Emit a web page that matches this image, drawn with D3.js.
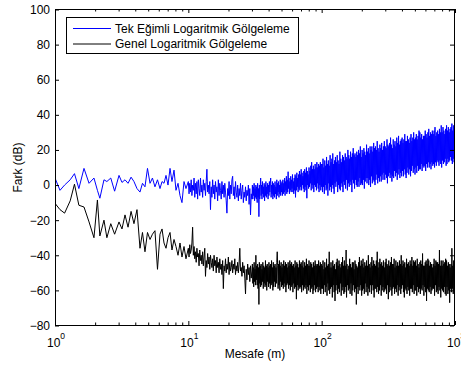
<!DOCTYPE html>
<html lang="tr">
<head>
<meta charset="UTF-8">
<title>Fark - Mesafe</title>
<script src="https://cdn.jsdelivr.net/npm/d3@7"></script>
<style>
  body { margin: 0; background: #fff; }
  svg { display: block; font-family: "Liberation Sans", Arial, sans-serif; }
</style>
</head>
<body>
<div id="chart"></div>
<script>
// distances (m) for the sparse part at the start
var distEarly = [1, 1.09, 1.18, 1.3, 1.4, 1.51, 1.65, 1.8, 1.96, 2.08, 2.17, 2.33, 2.45, 2.62, 2.8,
  3.02, 3.18, 3.35, 3.53, 3.72, 3.91, 4.12, 4.34, 4.53, 4.73, 4.94, 5.16, 5.38, 5.62, 5.87,
  6.13, 6.35, 6.57, 6.8, 7.04, 7.29, 7.54, 7.81, 8.08, 8.37, 8.66, 8.96, 9.28, 9.6];

// Tek Egimli (blue), dB
var blueEarly = [4, -3, 0, 3, 6.5, -2, 9.5, 1, 4, -3, -7.5, 3, 2, 4, -3.5, 5.5, 1.5, 3, 1, 4.5,
  2, -2, -4, 1, -1, 9.5, 1, 4, -1, 3, -2, 2, 1, 5.5, 0, 9.5, 2, 8.5, -3, 1, -6, -10, 2, -2];
// 10..30 m
var blueMid1 = "2 -5 1 -4 3 -6 0 -3 4 -7 1 -5 2 -8 3 -2 -6 4 -4 0 " +
  "-7 3 -3 1 -6 2 9 -4 0 -5 2 -14 -1 -7 3 -5 0 -8 2 -4 " +
  "-1 -9 3 -6 1 -3 -8 2 -5 0 -7 1 -4 -9 -16 -2 -6 2 -8 0 " +
  "-5 3 5 -6 -1 -8 2 -4 -7 0 -9 -2 -6 1 -8 -3 0 -10 -4 -7 " +
  "-1 -9 -3 -6 0 -11 -2 -17 -5 -8";
// 30..100 m
var blueMid2 = "0 -8 -1 -6 1 -9 -2 -7 0 -8 -1 -10 1 -7 -2 -18 0 -8 -1 4 " +
  "-6 0 -8 2 -5 -1 -7 1 -9 0 -6 2 -7 -1 -5 1 -8 0 -6 2 " +
  "-4 1 4 -7 0 -5 2 -8 1 -6 0 -7 2 -5 -1 -8 3 -6 1 -4 " +
  "2 -7 0 -5 3 -6 1 -4 2 -6 3 -5 1 -4 4 -6 2 -3 5 -5 " +
  "3 -4 7.6 -2 4 -5 2 -3 5 -4 3 -2 6 -4 2 -5 4 -3 6 -7 " +
  "5 -3 7 -1 4 -4 6 -2 8 -3 6 -1 9 -3 7 0 5 -2 8 -4 " +
  "9 -1 7 -3 10 -7.5 8 0 6 -2 10 -1 8 1 11 -3 13 0 9 -2 " +
  "11 -4 9 0 12 -1 10 -3 13 1 10 -2 12 -4 11 0 13 -3 12 -1";
// 100..1000 m
var blueFar = "12 -4 15 -1 10 -5 14 0 11 -3 16 -2 12 -6 14 1 11 -3 17 -1 " +
  "13 -4 15 0 18 -2 12 -5 14 1 16 -1 13 2 17 -4 14 0 12 -2 " +
  "19 -3 15 1 13 -1 17 -4 16 2 14 0 18 -2 16 3 15 -3 20 1 " +
  "17 -1 15 2 19 0 16 -4 18 3 21 1 17 -2 18 3 16 0 19 -1 " +
  "17 2 20 -1 18 4 22 0 16 1 20 0 18 3 21 -2 19 2 17 4 " +
  "23 1 19 4 21 0 18 3 22 -1 20 5 22 1 19 3 24 2 21 0 " +
  "22 3 20 6 25 1 21 4 19 2 23 5 21 2 24 6 20 3 22 7 " +
  "25 3 22 6 21 4 26 1 23 5 22 7 24 4 27 6 23 2 21 5 " +
  "26 4 23 8 25 5 22 7 27 3 24 6 28 9 23 4 25 7 26 5 " +
  "27 8 24 5 26 9 29 6 25 4 25 7 28 10 26 6 24 9 27 5 " +
  "29 8 25 11 27 7 30 9 26 6 27 10 29 7 26 11 28 8 31 9 " +
  "30 9 27 12 29 8 26 11 28 10 28 11 31 8 29 12 27 10 30 13 " +
  "32 10 28 12 30 9 29 13 31 11 29 12 31 10 33 13 28 11 30 14 " +
  "31 13 29 11 32 14 30 12 34 10 30 14 33 12 31 13 29 15 32 11 " +
  "34 12 31 15 33 13 30 14 32 16 33 14 35 12 31 15 34 13 32 15";

// Genel (black), dB
var blackEarly = [-10.4, -14, -16, -9, 0.5, -11.5, -12.5, -21, -30, -8.5, -29, -20, -30, -22, -28,
  -21, -25, -17, -24, -15, -22, -14, -36, -27, -38, -27, -31, -28, -26, -48, -28, -25, -33, -36,
  -30, -27, -37, -31, -35, -40, -33, -41, -35, -42];
var blackMid1 = "-36 -41 -34 -39 -37 -33 -24 -40 -35 -42 -38 -44 -36 -41 -39 -46 -37 -43 -40 -45 " +
  "-38 -46 -41 -36 -52 -43 -47 -39 -45 -41 -48 -40 -44 -47 -42 -49 -40 -46 -43 -50 " +
  "-41 -47 -44 -50 -42 -48 -45 -51 -43 -59 -46 -49 -42 -50 -45 -48 -41 -51 -44 -49 " +
  "-47 -43 -50 -45 -48 -42 -51 -46 -49 -44 -50 -45 -36 -49 -47 -52 -44 -50 -46 -53 " +
  "-62 -48 -54 -45 -51 -47 -55 -46 -53 -49";
var blackMid2 = "-45 -56 -47 -58 -44 -55 -48 -57 -40 -54 -46 -57 -45 -59 -47 -68 -44 -56 -46 -58 " +
  "-45 -57 -48 -55 -44 -59 -46 -56 -47 -58 -43 -57 -46 -60 -45 -55 -47 -58 -44 -56 " +
  "-46 -59 -45 -57 -43 -56 -47 -60 -44 -58 -46 -55 -45 -58 -47 -56 -44 -38 -46 -59 " +
  "-45 -57 -43 -60 -46 -55 -44 -58 -47 -57 -45 -59 -43 -56 -46 -58 -44 -61 -45 -57 " +
  "-47 -56 -44 -59 -46 -57 -43 -60 -45 -58 -44 -57 -46 -61 -45 -56 -47 -59 -43 -58 " +
  "-46 -65 -44 -57 -45 -60 -47 -58 -43 -59 -45 -58 -44 -61 -46 -57 -43 -60 -47 -58 " +
  "-44 -59 -46 -57 -42 -62 -45 -58 -46 -60 -43 -57 -46 -61 -44 -59 -45 -58 -47 -62 " +
  "-44 -60 -46 -57 -43 -61 -45 -59 -46 -58 -45 -61 -43 -58 -46 -60 -44 -62 -45 -59";
var blackFar = "-46 -59 -43 -62 -48 -57 -44 -61 -47 -58 -42 -63 -46 -56 -45 -60 -38 -62 -47 -59 " +
  "-44 -58 -47 -64 -43 -57 -46 -61 -45 -66 -48 -60 -44 -57 -42 -62 -46 -59 -43 -61 " +
  "-45 -56 -47 -63 -44 -60 -41 -58 -46 -62 -43 -61 -46 -58 -37 -64 -45 -57 -48 -60 " +
  "-46 -59 -42 -62 -45 -56 -47 -63 -44 -60 -44 -57 -48 -61 -43 -59 -45 -68 -46 -58 " +
  "-47 -62 -44 -58 -41 -60 -46 -57 -43 -63 -45 -60 -42 -59 -47 -62 -44 -56 -46 -61 " +
  "-43 -58 -46 -63 -40 -59 -45 -61 -47 -57 -44 -62 -41 -57 -46 -60 -43 -64 -45 -59 " +
  "-46 -59 -43 -61 -38 -58 -47 -62 -44 -60 -42 -57 -45 -63 -44 -60 -46 -58 -43 -61 " +
  "-47 -60 -44 -59 -42 -62 -45 -57 -46 -65 -43 -61 -46 -58 -44 -60 -41 -63 -45 -59 " +
  "-45 -58 -42 -62 -47 -59 -43 -61 -46 -57 -44 -63 -46 -60 -43 -58 -45 -62 -40 -59 " +
  "-46 -57 -43 -61 -45 -64 -44 -59 -47 -60 -42 -62 -45 -58 -44 -60 -46 -63 -43 -59 " +
  "-45 -59 -41 -61 -46 -57 -43 -62 -44 -60 -43 -60 -46 -63 -42 -58 -45 -61 -47 -59 " +
  "-44 -62 -43 -59 -45 -60 -39 -57 -46 -63 -46 -58 -44 -61 -43 -66 -45 -59 -42 -60 " +
  "-43 -61 -46 -58 -44 -62 -45 -60 -47 -59 -45 -59 -42 -63 -46 -57 -43 -61 -44 -60 " +
  "-44 -62 -45 -58 -37 -60 -46 -64 -43 -59 -46 -60 -43 -61 -45 -58 -44 -62 -42 -63 " +
  "-43 -58 -46 -62 -44 -60 -45 -67 -47 -59 -45 -61 -36 -59 -46 -62 -43 -60 -44 -69";

var seriesNames = ["Tek Eğimli Logaritmik Gölgeleme", "Genel Logaritmik Gölgeleme"];
var seriesColors = ["#0000ff", "#000000"];
var xDecades = [1, 10, 100, 1000];
var xExponents = ["0", "1", "2", "3"];
var yTicks = [-80, -60, -40, -20, 0, 20, 40, 60, 80, 100];

function parse(s) { return s.trim().split(/\s+/).map(Number); }

// sample grids, evenly spaced on the log axis
function logGrid(a, b, n, skipFirst) {
  var la = Math.log10(a), lb = Math.log10(b);
  return d3.range(n).map(function (i) {
    var t = skipFirst ? (i + 1) / n : i / (n - 1);
    return Math.pow(10, la + t * (lb - la));
  });
}
var distMid1 = logGrid(10, 30, 90, false);
var distMid2 = logGrid(30, 100, 160, true);
var distFar = logGrid(100, 1000, 300, true);

function pairs(dist, vals) {
  var v = typeof vals === 'string' ? parse(vals) : vals;
  return dist.slice(0, v.length).map(function (d, i) { return [d, v[i]]; });
}

var series = [
  pairs(distEarly, blueEarly).concat(pairs(distMid1, blueMid1), pairs(distMid2, blueMid2), pairs(distFar, blueFar)),
  pairs(distEarly, blackEarly).concat(pairs(distMid1, blackMid1), pairs(distMid2, blackMid2), pairs(distFar, blackFar))
];

var width = 461, height = 374;
var plotL = 55, plotR = 455, plotT = 9.5, plotB = 325.5;
var fontSize = '12px';

var x = d3.scaleLog().domain([1, 1000]).range([plotL, plotR]);
var y = d3.scaleLinear().domain([-80, 100]).range([plotB, plotT]);

var svg = d3.select('#chart').append('svg')
  .attr('width', width).attr('height', height);

svg.append('clipPath').attr('id', 'plotclip')
  .append('rect').attr('x', plotL).attr('y', plotT)
  .attr('width', plotR - plotL).attr('height', plotB - plotT);

var line = d3.line().x(function (d) { return x(d[0]); }).y(function (d) { return y(d[1]); });

svg.append('g').attr('clip-path', 'url(#plotclip)')
  .selectAll('path').data(series).join('path')
  .attr('d', line)
  .attr('fill', 'none')
  .attr('stroke', function (d, i) { return seriesColors[i]; })
  .attr('stroke-width', 1)
  .attr('stroke-linejoin', 'round')
  .attr('stroke-linecap', 'round');

// minor ticks for the log axis
var minor = [];
[1, 10, 100].forEach(function (b) { for (var k = 2; k <= 9; k++) minor.push(b * k); });

function styleAxis(g) {
  g.select('.domain').remove();
  g.selectAll('.tick line').attr('stroke', '#000');
  g.selectAll('text').attr('fill', '#000').style('font-size', fontSize)
    .style('font-family', '"Liberation Sans", Arial, sans-serif');
}

svg.append('g').attr('transform', 'translate(' + plotL + ',0)')
  .call(d3.axisLeft(y).tickValues(yTicks).tickSize(-4).tickPadding(5))
  .call(styleAxis);
svg.append('g').attr('transform', 'translate(' + (plotR - 1) + ',0)')
  .call(d3.axisRight(y).tickValues(yTicks).tickSize(-4).tickFormat(''))
  .call(styleAxis);
svg.append('g').attr('transform', 'translate(0,' + (plotB - 0.5) + ')')
  .call(d3.axisBottom(x).tickValues(xDecades).tickSize(-4).tickFormat(''))
  .call(styleAxis);
svg.append('g').attr('transform', 'translate(0,' + (plotB - 0.5) + ')')
  .call(d3.axisBottom(x).tickValues(minor).tickSize(-2.5).tickFormat(''))
  .call(styleAxis);
svg.append('g').attr('transform', 'translate(0,' + (plotT - 0.5) + ')')
  .call(d3.axisTop(x).tickValues(xDecades).tickSize(-4).tickFormat(''))
  .call(styleAxis);
svg.append('g').attr('transform', 'translate(0,' + (plotT - 0.5) + ')')
  .call(d3.axisTop(x).tickValues(minor).tickSize(-2.5).tickFormat(''))
  .call(styleAxis);

// box
svg.append('rect')
  .attr('x', plotL + 0.5).attr('y', plotT)
  .attr('width', plotR - plotL - 1).attr('height', plotB - plotT)
  .attr('fill', 'none').attr('stroke', '#000');

// decade labels with superscripts
var xl = svg.append('g').selectAll('text').data(xDecades).join('text')
  .attr('x', function (d) { return x(d) + 1; })
  .attr('y', 347)
  .attr('text-anchor', 'middle')
  .style('font-size', fontSize)
  .attr('fill', '#000');
xl.append('tspan').text('10');
xl.append('tspan').attr('dy', -8).style('font-size', '8.5px')
  .text(function (d, i) { return xExponents[i]; });

svg.append('text')
  .attr('x', (plotL + plotR) / 2).attr('y', 358)
  .attr('text-anchor', 'middle').style('font-size', fontSize)
  .text('Mesafe (m)');

svg.append('text')
  .attr('transform', 'translate(22,' + ((plotT + plotB) / 2) + ') rotate(-90)')
  .attr('text-anchor', 'middle').style('font-size', fontSize)
  .text('Fark (dB)');

// legend
var lg = svg.append('g');
lg.append('rect').attr('x', 66.5).attr('y', 17.5).attr('width', 232).attr('height', 36)
  .attr('fill', '#fff').attr('stroke', '#000');
var rows = lg.selectAll('g').data(seriesNames).join('g')
  .attr('transform', function (d, i) { return 'translate(0,' + (28.5 + i * 15.5) + ')'; });
rows.append('line').attr('x1', 73).attr('x2', 111)
  .attr('stroke', function (d, i) { return seriesColors[i]; });
rows.append('text').attr('x', 115).attr('y', 4.3)
  .style('font-size', fontSize).text(function (d) { return d; });
</script>
</body>
</html>
